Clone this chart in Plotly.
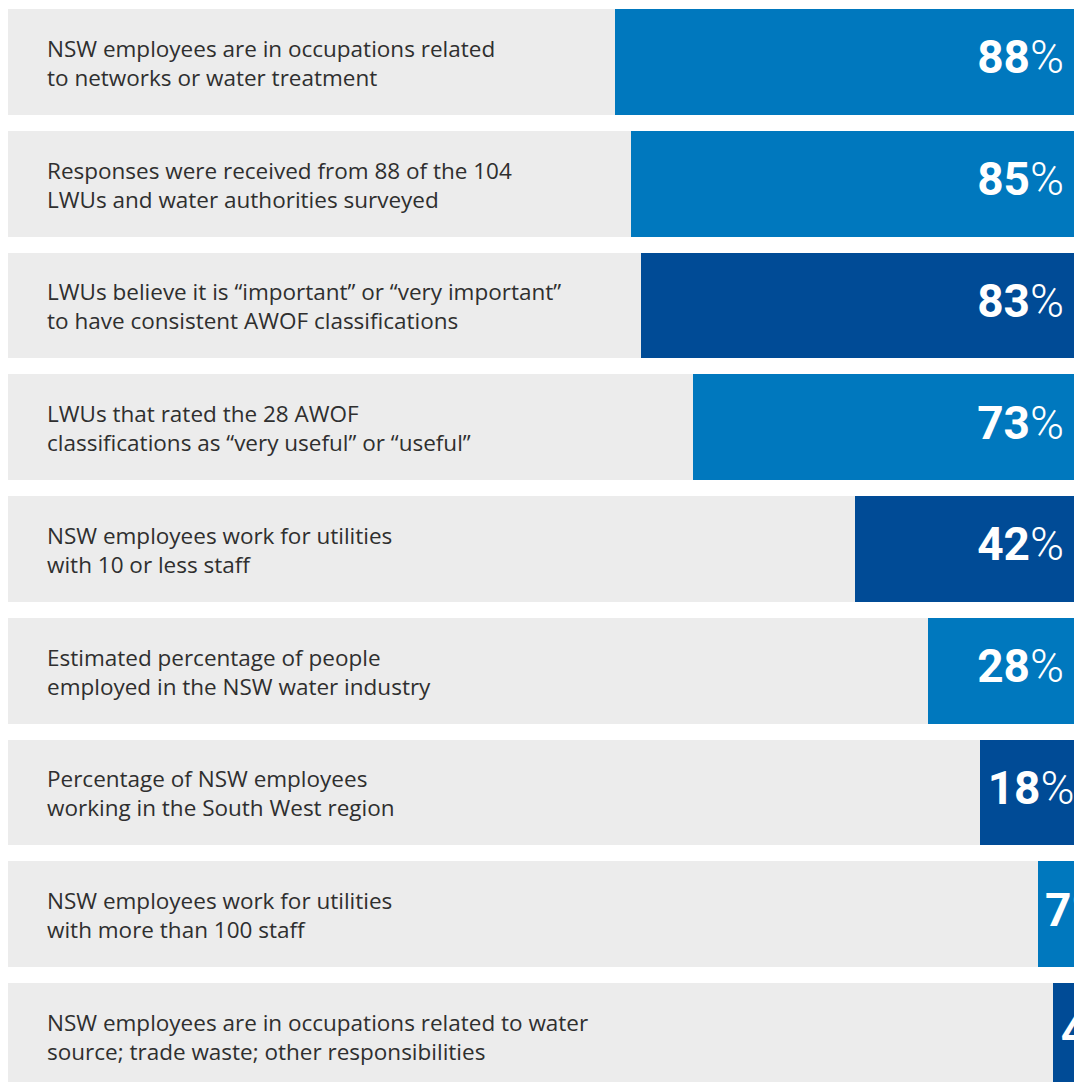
import plotly.graph_objects as go

labels = [
    "NSW employees are in occupations related<br>to networks or water treatment",
    "Responses were received from 88 of the 104<br>LWUs and water authorities surveyed",
    "LWUs believe it is \u201cimportant\u201d or \u201cvery important\u201d<br>to have consistent AWOF classifications",
    "LWUs that rated the 28 AWOF<br>classifications as \u201cvery useful\u201d or \u201cuseful\u201d",
    "NSW employees work for utilities<br>with 10 or less staff",
    "Estimated percentage of people<br>employed in the NSW water industry",
    "Percentage of NSW employees<br>working in the South West region",
    "NSW employees work for utilities<br>with more than 100 staff",
    "NSW employees are in occupations related to water<br>source; trade waste; other responsibilities",
]
values = [88, 85, 83, 73, 42, 28, 18, 7, 4]
tones = ["light", "light", "dark", "light", "dark", "light", "dark", "light", "dark"]

LIGHT = "#0078BE"
DARK = "#004B96"
GREY = "#ECECEC"
AXIS_MAX = 204.5
PX_PER = 1066 / AXIS_MAX

rows = list(range(len(values)))
bar_colors = [LIGHT if t == "light" else DARK for t in tones]

fig = go.Figure()
fig.add_trace(go.Bar(y=rows, x=[AXIS_MAX] * len(rows), orientation="h",
                     marker=dict(color=GREY, line=dict(width=0)), width=0.87,
                     hoverinfo="skip", showlegend=False))
fig.add_trace(go.Bar(y=rows, x=values, orientation="h",
                     marker=dict(color=bar_colors, line=dict(width=0)), width=0.87,
                     hoverinfo="skip", showlegend=False))

# value labels: right-aligned near the end for long bars, left-aligned in bar for short ones
big_y, big_t, small_y, small_x, small_t = [], [], [], [], []
for i, v in enumerate(values):
    t = f"<b>{v}</b>%"
    if v >= 20:
        big_y.append(i); big_t.append(t)
    else:
        small_y.append(i); small_x.append(v - 7.5 / PX_PER); small_t.append(t)

vfont = dict(family="Roboto", size=46, color="white", weight=300)
fig.add_trace(go.Scatter(y=big_y, x=[10 / PX_PER] * len(big_y), mode="text", text=big_t,
                         textposition="middle left", textfont=vfont, cliponaxis=True,
                         hoverinfo="skip", showlegend=False))
fig.add_trace(go.Scatter(y=small_y, x=small_x, mode="text", text=small_t,
                         textposition="middle right", textfont=vfont, cliponaxis=True,
                         hoverinfo="skip", showlegend=False))

for i, lab in enumerate(labels):
    fig.add_annotation(x=37 / 1066, xref="paper", y=i, yref="y", text=lab,
                       xanchor="left", yanchor="middle", align="left", showarrow=False,
                       yshift=-1,
                       font=dict(family="Open Sans", size=22.5, color="#2f2f2f"))

fig.update_layout(
    width=1074, height=1082,
    margin=dict(l=8, r=0, t=9, b=0),
    paper_bgcolor="white", plot_bgcolor="white",
    barmode="overlay", bargap=0,
    xaxis=dict(range=[AXIS_MAX, 0], visible=False, fixedrange=True),
    yaxis=dict(range=[-0.435 + 1073 / 121.75, -0.435], visible=False, fixedrange=True),
    showlegend=False,
)
fig.write_html("out.html", config={"displayModeBar": False})
